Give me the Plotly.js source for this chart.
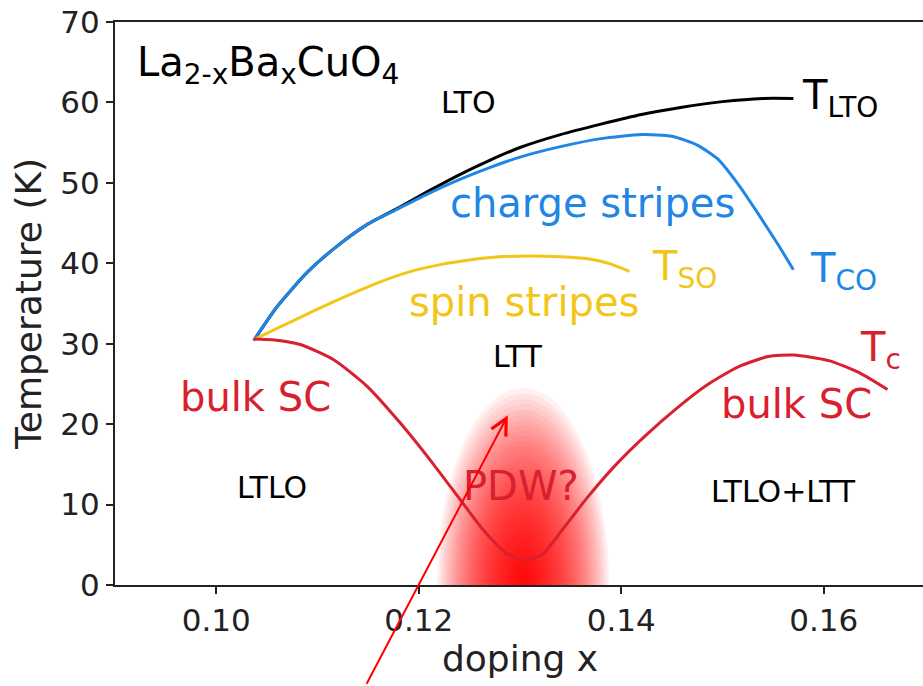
<!DOCTYPE html>
<html>
<head>
<meta charset="utf-8">
<script src="https://cdn.plot.ly/plotly-3.0.1.min.js"></script>
<style>
html,body{margin:0;padding:0;overflow:hidden;background:#fff;}
#chart{width:935px;height:686px;}
</style>
</head>
<body>
<div id="chart"></div>
<script>
// ---- data ----
const ltoX = [0.1037, 0.1060, 0.1090, 0.1120, 0.1150, 0.1180, 0.1210, 0.1240, 0.1270, 0.1300, 0.1340, 0.1380, 0.1420, 0.1460, 0.1500, 0.1540, 0.1570];
const ltoT = [30.4, 34.6, 38.9, 42.2, 44.9, 46.9, 49.0, 51.0, 52.8, 54.4, 56.0, 57.3, 58.5, 59.4, 60.1, 60.5, 60.5];

const coX = [0.1037, 0.1060, 0.1090, 0.1120, 0.1150, 0.1180, 0.1210, 0.1240, 0.1270, 0.1300, 0.1340, 0.1380, 0.1420, 0.1450, 0.1475, 0.1495, 0.1515, 0.1535, 0.1555, 0.1570];
const coT = [30.4, 34.6, 38.9, 42.2, 44.9, 46.8, 48.7, 50.4, 51.9, 53.2, 54.5, 55.5, 56.0, 55.8, 54.7, 53.0, 49.9, 46.2, 42.3, 39.2];

const soX = [0.1037, 0.1060, 0.1080, 0.1100, 0.1130, 0.1160, 0.1190, 0.1220, 0.1250, 0.1280, 0.1310, 0.1340, 0.1370, 0.1390, 0.1408];
const soT = [30.5, 31.9, 33.1, 34.3, 36.0, 37.6, 38.9, 39.8, 40.4, 40.8, 40.9, 40.8, 40.5, 39.9, 39.0];

const tcX = [0.1037, 0.1055, 0.1083, 0.1116, 0.1149, 0.1182, 0.1214, 0.1241, 0.1264, 0.1287, 0.1305, 0.1322, 0.1342, 0.1366, 0.1395, 0.1425, 0.1455, 0.1485, 0.1515, 0.1545, 0.1570, 0.1605, 0.1635, 0.1663];
const tcT = [30.6, 30.5, 29.9, 28.0, 24.7, 20.1, 15.1, 10.6, 6.8, 3.9, 3.1, 3.8, 6.9, 10.8, 15.0, 18.7, 22.0, 24.9, 27.1, 28.4, 28.6, 27.9, 26.4, 24.3];

const xTicks = [0.10, 0.12, 0.14, 0.16];
const yTicks = [0, 10, 20, 30, 40, 50, 60, 70];

// PDW glow region (centre x, half width in x, height in K)
const pdwX = 0.1303;
const pdwHalfW = 0.0085;
const pdwTop = 24.5;

// arrow tip (data coords) and tail offset in pixels
const arrowTipX = 0.1288;
const arrowTipT = 21.1;
const arrowDX = -142;
const arrowDY = 270;

// ---- styling ----
const FONT = 'DejaVu Sans, sans-serif';
const BLACK = '#000000';
const BLUE = '#1f86e6';
const GOLD = '#f2c618';
const RED = '#d9202e';

function line(x, y, color) {
  return {x: x, y: y, type: 'scatter', mode: 'lines',
    line: {color: color, width: 3, shape: 'spline', smoothing: 0.6},
    hoverinfo: 'skip', showlegend: false};
}

const traces = [
  line(ltoX, ltoT, BLACK),
  line(coX, coT, BLUE),
  line(soX, soT, GOLD),
  line(tcX, tcT, RED)
];

// glow: nested translucent ellipses, denser towards the centre
const shapes = [];
const NL = 50;
for (let k = 0; k < NL; k++) {
  const s = Math.pow(1 - k / NL, 1.4);
  shapes.push({type: 'circle', xref: 'x', yref: 'y', layer: 'below',
    x0: pdwX - pdwHalfW * s, x1: pdwX + pdwHalfW * s,
    y0: -pdwTop * s, y1: pdwTop * s,
    fillcolor: 'rgba(255,0,0,0.055)', line: {width: 0}});
}

function lab(x, y, text, color, size, xanchor) {
  return {x: x, y: y, xref: 'x', yref: 'y', text: text, showarrow: false,
    xanchor: xanchor || 'center', yanchor: 'middle',
    font: {family: FONT, size: size, color: color}};
}

const annotations = [
  lab(0.0920, 64.6, 'La<sub>2-x</sub>Ba<sub>x</sub>CuO<sub>4</sub>', BLACK, 40, 'left'),
  lab(0.1249, 60.0, 'LTO', BLACK, 30),
  lab(0.15765, 60.6, 'T<sub>LTO</sub>', BLACK, 40, 'left'),
  lab(0.1372, 47.5, 'charge stripes', BLUE, 40),
  lab(0.15844, 39.0, 'T<sub>CO</sub>', BLUE, 40, 'left'),
  lab(0.1304, 35.2, 'spin stripes', GOLD, 40),
  lab(0.14284, 39.3, 'T<sub>SO</sub>', GOLD, 40, 'left'),
  lab(0.16338, 29.2, 'T<sub>c</sub>', RED, 40, 'left'),
  lab(0.10383, 23.4, 'bulk SC', RED, 40),
  lab(0.15726, 22.5, 'bulk SC', RED, 40),
  lab(0.1298, 28.4, 'LTT', BLACK, 30),
  lab(0.10551, 12.1, 'LTLO', BLACK, 30),
  lab(0.1301, 12.3, 'PDW?', RED, 40),
  lab(0.15598, 11.6, 'LTLO+LTT', BLACK, 30),
  {x: arrowTipX, y: arrowTipT, xref: 'x', yref: 'y', text: '', showarrow: true,
    ax: arrowDX, ay: arrowDY, arrowcolor: '#ff0000', arrowwidth: 2, arrowhead: 5, arrowsize: 1.6,
    standoff: 0, startstandoff: 0}
];

const axisCommon = {
  showline: true, linewidth: 2, linecolor: '#222', mirror: true,
  ticks: 'outside', ticklen: 7, tickwidth: 2, tickcolor: '#222',
  showgrid: false, zeroline: false,
  tickfont: {family: FONT, size: 31, color: '#222'}
};

const layout = {
  width: 935, height: 686,
  margin: {l: 115, r: 10, t: 22, b: 101},
  paper_bgcolor: '#fff', plot_bgcolor: '#fff',
  showlegend: false,
  xaxis: Object.assign({}, axisCommon, {
    range: [0.09, 0.17], tickvals: xTicks, ticktext: xTicks.map(v => v.toFixed(2)),
    title: {text: 'doping x', font: {family: FONT, size: 36, color: '#222'}, standoff: 8}
  }),
  yaxis: Object.assign({}, axisCommon, {
    range: [0, 70], tickvals: yTicks, ticktext: yTicks.map(String),
    title: {text: 'Temperature (K)', font: {family: FONT, size: 36, color: '#222'}, standoff: 8}
  }),
  shapes: shapes,
  annotations: annotations
};

Plotly.newPlot('chart', traces, layout, {displayModeBar: false, staticPlot: true});
</script>
</body>
</html>
